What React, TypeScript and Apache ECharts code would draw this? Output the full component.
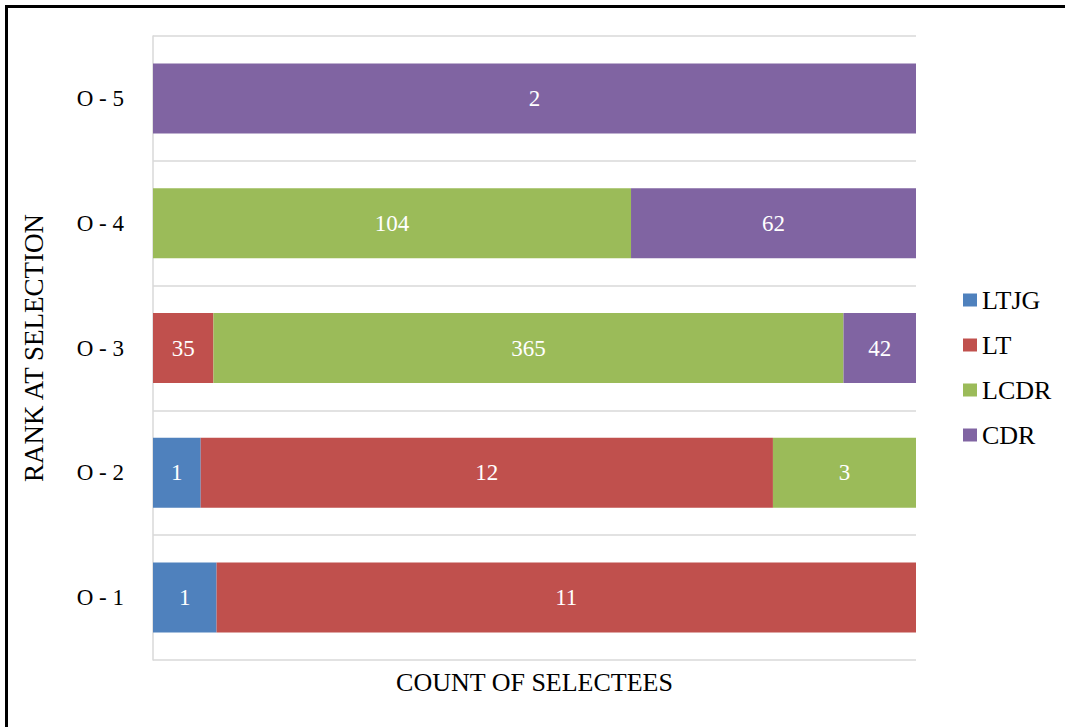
import React, { useEffect, useRef } from "react";
import * as echarts from "echarts";

// Ranks at selection, bottom to top
const ranks = ["O - 1", "O - 2", "O - 3", "O - 4", "O - 5"];

// Selectee counts per current rank (null = none)
const ltjg = [1, 1, null, null, null];
const lt = [11, 12, 35, null, null];
const lcdr = [null, 3, 365, 104, null];
const cdr = [null, null, 42, 62, 2];

const seriesNames = ["LTJG", "LT", "LCDR", "CDR"];
const seriesColors = ["#4F81BD", "#C0504D", "#9BBB59", "#8064A2"];
const seriesCounts = [ltjg, lt, lcdr, cdr];

const FONT = "Liberation Serif";

export default function App() {
  const ref = useRef<HTMLDivElement>(null);

  useEffect(() => {
    if (!ref.current) return;
    const chart = echarts.init(ref.current, null, { renderer: "svg" });

    // Each bar is shown as a share of its rank's total (100% stacked)
    const totals = ranks.map((_, i) =>
      seriesCounts.reduce((s, arr) => s + (arr[i] ?? 0), 0)
    );

    const series = seriesNames.map((name, k) => ({
      name,
      type: "bar",
      stack: "total",
      barWidth: 70,
      itemStyle: { color: seriesColors[k] },
      label: {
        show: true,
        position: "inside",
        color: "#ffffff",
        fontFamily: FONT,
        fontSize: 23,
        formatter: (p: any) => (p.data && p.data.count != null ? String(p.data.count) : ""),
      },
      data: seriesCounts[k].map((c, i) =>
        c == null ? null : { value: (c / totals[i]) * 100, count: c }
      ),
    }));

    chart.setOption({
      animation: false,
      backgroundColor: "#ffffff",
      textStyle: { fontFamily: FONT },
      grid: { left: 153, right: 149, top: 36, bottom: 67, containLabel: false },
      legend: {
        orient: "vertical",
        left: 958,
        top: 282,
        icon: "rect",
        itemWidth: 14,
        itemHeight: 13,
        itemGap: 19,
        textStyle: { fontFamily: FONT, fontSize: 26, color: "#000000" },
        data: seriesNames,
      },
      xAxis: {
        type: "value",
        min: 0,
        max: 100,
        axisLine: { show: false },
        axisTick: { show: false },
        axisLabel: { show: false },
        splitLine: { show: false },
        name: "COUNT OF SELECTEES",
        nameLocation: "middle",
        nameGap: 9,
        nameTextStyle: { fontFamily: FONT, fontSize: 26, color: "#000000" },
      },
      yAxis: {
        type: "category",
        data: ranks,
        axisLine: { show: true, lineStyle: { color: "#d9d9d9", width: 1.5 } },
        axisTick: { show: false },
        axisLabel: { fontFamily: FONT, fontSize: 23, color: "#000000", margin: 29 },
        splitLine: { show: true, lineStyle: { color: "#d9d9d9", width: 1.5 } },
        name: "RANK AT SELECTION",
        nameLocation: "middle",
        nameRotate: 90,
        nameGap: 106,
        nameTextStyle: { fontFamily: FONT, fontSize: 27, color: "#000000" },
      },
      graphic: [
        {
          type: "rect",
          shape: { x: 6.5, y: 6.5, width: 1200, height: 900 },
          style: { fill: "none", stroke: "#000000", lineWidth: 3 },
          silent: true,
        },
      ],
      series,
    });

    return () => chart.dispose();
  }, []);

  return (
    <div
      ref={ref}
      style={{ position: "absolute", left: 0, top: 0, width: 1065, height: 727 }}
    />
  );
}
